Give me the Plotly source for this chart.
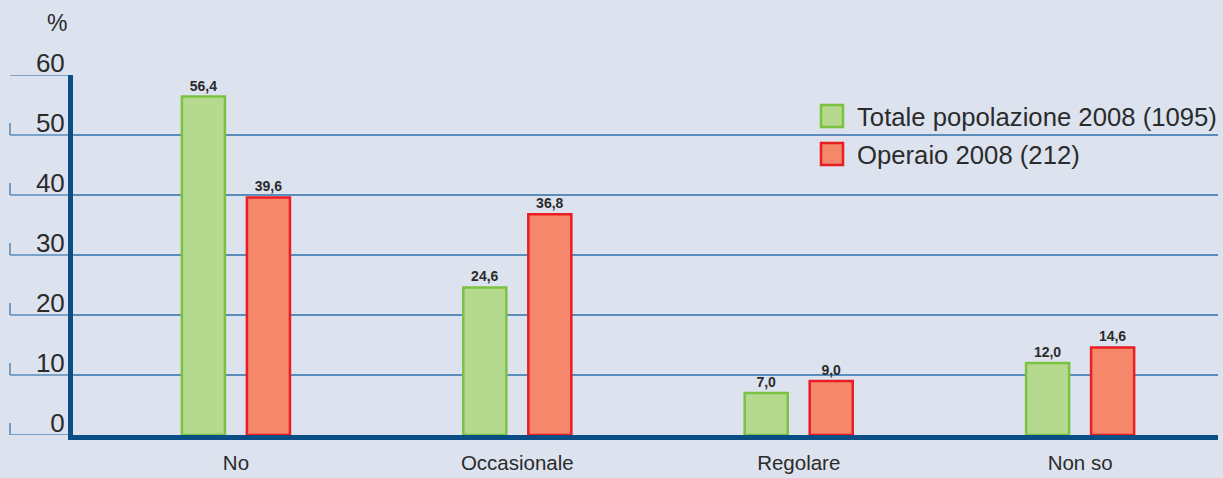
import plotly.graph_objects as go

categories = ["No", "Occasionale", "Regolare", "Non so"]
totale_2008 = [56.4, 24.6, 7.0, 12.0]
operaio_2008 = [39.6, 36.8, 9.0, 14.6]
series_names = ["Totale popolazione 2008 (1095)", "Operaio 2008 (212)"]
y_ticks = [0, 10, 20, 30, 40, 50, 60]

BG = "#dce3ef"
GRID = "#5a8cbc"
AXIS = "#0b4d85"
TXT = "#2b2b2b"
GREEN_FILL, GREEN_LINE = "#b5d98e", "#7cc242"
RED_FILL, RED_LINE = "#f5886a", "#ec1c24"
FONT = "Liberation Sans, Arial, sans-serif"

W, H = 1223, 478
ML, MR, MT, MB = 73, 5, 75, 43
PW, PH = W - ML - MR, H - MT - MB


def px_x(x):
    return (x - ML) / PW


def px_y(y):
    return (H - MB - y) / PH


fig = go.Figure()
fig.add_trace(go.Bar(
    x=categories, y=totale_2008, name=series_names[0],
    width=0.153, offset=-0.192,
    marker=dict(color=GREEN_FILL, line=dict(color=GREEN_LINE, width=2.5)),
    texttemplate="%{y:.1f}", textposition="outside",
    textfont=dict(family=FONT, size=14, color=TXT, weight="bold"),
    cliponaxis=False, showlegend=False,
))
fig.add_trace(go.Bar(
    x=categories, y=operaio_2008, name=series_names[1],
    width=0.153, offset=0.039,
    marker=dict(color=RED_FILL, line=dict(color=RED_LINE, width=2.5)),
    texttemplate="%{y:.1f}", textposition="outside",
    textfont=dict(family=FONT, size=14, color=TXT, weight="bold"),
    cliponaxis=False, showlegend=False,
))

shapes = []
ext_x0 = px_x(10)
for v in y_ticks:
    # gridline extension to the left of the axis
    shapes.append(dict(type="line", xref="paper", yref="y", x0=ext_x0, x1=0,
                       y0=v, y1=v, line=dict(color=GRID, width=1.6), layer="below"))
    # small vertical tick mark
    shapes.append(dict(type="line", xref="paper", yref="y", x0=ext_x0, x1=ext_x0,
                       y0=v, y1=v + 2.0, line=dict(color=GRID, width=1.6), layer="below"))

# legend background covering gridline
shapes.append(dict(type="rect", xref="paper", yref="paper",
                   x0=px_x(803), x1=1.0, y0=px_y(178), y1=px_y(92),
                   fillcolor=BG, line=dict(width=0), layer="between"))
# legend boxes
shapes.append(dict(type="rect", xref="paper", yref="paper",
                   x0=px_x(821), x1=px_x(843), y0=px_y(127), y1=px_y(105),
                   fillcolor=GREEN_FILL, line=dict(color=GREEN_LINE, width=2.5), layer="above"))
shapes.append(dict(type="rect", xref="paper", yref="paper",
                   x0=px_x(821), x1=px_x(843), y0=px_y(165), y1=px_y(143),
                   fillcolor=RED_FILL, line=dict(color=RED_LINE, width=2.5), layer="above"))

annotations = [
    dict(text=series_names[0], xref="paper", yref="paper", x=px_x(855), y=px_y(117),
         xanchor="left", yanchor="middle", showarrow=False,
         font=dict(family=FONT, size=25.7, color=TXT)),
    dict(text=series_names[1], xref="paper", yref="paper", x=px_x(855), y=px_y(155),
         xanchor="left", yanchor="middle", showarrow=False,
         font=dict(family=FONT, size=25.7, color=TXT)),
    dict(text="%", xref="paper", yref="paper", x=px_x(57), y=px_y(23),
         xanchor="center", yanchor="middle", showarrow=False,
         font=dict(family=FONT, size=23, color=TXT)),
]

fig.update_layout(
    width=W, height=H,
    margin=dict(l=ML, r=MR, t=MT, b=MB, autoexpand=False),
    paper_bgcolor=BG, plot_bgcolor=BG,
    barmode="overlay",
    separators=",.",
    showlegend=False,
    shapes=shapes,
    annotations=annotations,
    font=dict(family=FONT, color=TXT),
)
fig.update_xaxes(
    range=[-0.579, 3.49], showgrid=False, zeroline=False, automargin=False,
    showline=True, linecolor=AXIS, linewidth=5,
    ticks="", tickfont=dict(family=FONT, size=20.5, color=TXT),
    ticklabelstandoff=5,
)
fig.update_yaxes(
    range=[0, 60], tickvals=y_ticks, showgrid=True, gridcolor=GRID, gridwidth=1.6,
    zeroline=False, automargin=False, showline=True, linecolor=AXIS, linewidth=5,
    ticks="", tickfont=dict(family=FONT, size=26, color=TXT),
    ticklabelshift=-12, ticklabelstandoff=-2,
)

fig.write_html(
    "out.html",
    config={"displayModeBar": False},
    post_script="document.body.style.margin='0';document.body.style.background='" + BG + "';",
)
